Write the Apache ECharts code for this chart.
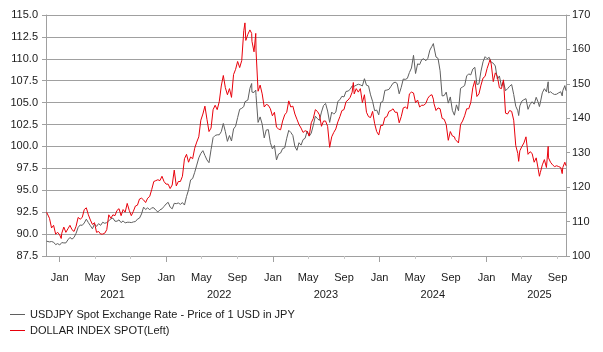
<!DOCTYPE html>
<html>
<head>
<meta charset="utf-8">
<script src="https://cdn.jsdelivr.net/npm/echarts@6/dist/echarts.min.js"></script>
<style>
  html, body { margin: 0; padding: 0; background: #fff; }
  #chart { width: 603px; height: 352px; }
</style>
</head>
<body>
<div id="chart"></div>
<script>
// dates of the readings (mostly weekly, a few extra at the extremes)
const dates = [
  '2020-11-17','2020-11-20','2020-11-27','2020-12-04','2020-12-11','2020-12-18','2020-12-25',
  '2021-01-01','2021-01-06','2021-01-08','2021-01-15','2021-01-22','2021-01-29','2021-02-05','2021-02-12','2021-02-19','2021-02-26',
  '2021-03-05','2021-03-12','2021-03-19','2021-03-26','2021-04-02','2021-04-09','2021-04-16','2021-04-23','2021-04-30',
  '2021-05-07','2021-05-14','2021-05-21','2021-05-28','2021-06-04','2021-06-11','2021-06-18','2021-06-25',
  '2021-07-02','2021-07-09','2021-07-16','2021-07-23','2021-07-30','2021-08-06','2021-08-13','2021-08-20','2021-08-27',
  '2021-09-03','2021-09-10','2021-09-17','2021-09-24','2021-10-01','2021-10-08','2021-10-15','2021-10-22','2021-10-29',
  '2021-11-05','2021-11-12','2021-11-19','2021-11-26','2021-12-03','2021-12-10','2021-12-17','2021-12-24','2021-12-31',
  '2022-01-07','2022-01-14','2022-01-21','2022-01-28','2022-02-04','2022-02-11','2022-02-18','2022-02-25',
  '2022-03-04','2022-03-11','2022-03-18','2022-03-25','2022-04-01','2022-04-08','2022-04-15','2022-04-22','2022-04-29',
  '2022-05-06','2022-05-13','2022-05-20','2022-05-27','2022-06-03','2022-06-10','2022-06-17','2022-06-24',
  '2022-07-01','2022-07-08','2022-07-15','2022-07-22','2022-07-29','2022-08-05','2022-08-12','2022-08-19','2022-08-26',
  '2022-09-02','2022-09-09','2022-09-16','2022-09-23','2022-09-27','2022-09-30','2022-10-07','2022-10-14','2022-10-20','2022-10-21','2022-10-28',
  '2022-11-03','2022-11-04','2022-11-11','2022-11-18','2022-11-25','2022-12-02','2022-12-09','2022-12-16','2022-12-23','2022-12-30',
  '2023-01-06','2023-01-13','2023-01-16','2023-01-20','2023-01-27','2023-02-03','2023-02-10','2023-02-17','2023-02-24',
  '2023-03-03','2023-03-10','2023-03-17','2023-03-24','2023-03-31','2023-04-07','2023-04-14','2023-04-21','2023-04-28',
  '2023-05-05','2023-05-12','2023-05-19','2023-05-26','2023-06-02','2023-06-09','2023-06-16','2023-06-23','2023-06-30',
  '2023-07-07','2023-07-14','2023-07-17','2023-07-21','2023-07-28','2023-08-04','2023-08-11','2023-08-18','2023-08-25',
  '2023-09-01','2023-09-08','2023-09-15','2023-09-22','2023-09-29','2023-10-03','2023-10-06','2023-10-13','2023-10-20','2023-10-27',
  '2023-11-03','2023-11-10','2023-11-17','2023-11-24','2023-12-01','2023-12-08','2023-12-15','2023-12-22','2023-12-29',
  '2024-01-05','2024-01-12','2024-01-19','2024-01-26','2024-02-02','2024-02-09','2024-02-16','2024-02-23',
  '2024-03-01','2024-03-08','2024-03-15','2024-03-22','2024-03-29','2024-04-05','2024-04-12','2024-04-19','2024-04-26',
  '2024-05-03','2024-05-10','2024-05-17','2024-05-24','2024-05-31','2024-06-07','2024-06-14','2024-06-21','2024-06-28',
  '2024-07-03','2024-07-05','2024-07-12','2024-07-19','2024-07-26','2024-08-02','2024-08-09','2024-08-16','2024-08-23','2024-08-30',
  '2024-09-06','2024-09-13','2024-09-16','2024-09-20','2024-09-27','2024-10-04','2024-10-11','2024-10-18','2024-10-25',
  '2024-11-01','2024-11-08','2024-11-15','2024-11-22','2024-11-29','2024-12-06','2024-12-13','2024-12-20','2024-12-27',
  '2025-01-03','2025-01-10','2025-01-13','2025-01-17','2025-01-24','2025-01-31','2025-02-07','2025-02-14','2025-02-21','2025-02-28',
  '2025-03-07','2025-03-14','2025-03-21','2025-03-28','2025-04-04','2025-04-11','2025-04-18','2025-04-21','2025-04-25',
  '2025-05-02','2025-05-09','2025-05-16','2025-05-23','2025-05-30','2025-06-06','2025-06-13','2025-06-20','2025-06-27',
  '2025-07-01','2025-07-04','2025-07-11','2025-07-18','2025-07-25','2025-07-31','2025-08-01','2025-08-08','2025-08-15','2025-08-22','2025-08-29',
  '2025-09-05','2025-09-12','2025-09-17','2025-09-19','2025-09-26','2025-09-30'
];

// DOLLAR INDEX SPOT (left axis)
const dxy = [
  92.5,92.4,91.8,90.7,91.0,90.0,90.2,
  89.9,89.5,90.1,90.8,90.2,90.6,91.0,90.5,90.3,90.9,
  91.9,91.7,91.9,92.8,93.0,92.2,91.6,91.1,91.3,
  90.2,90.3,90.0,90.0,90.1,90.5,92.2,91.8,
  92.2,92.1,92.7,92.9,92.1,92.8,92.5,93.5,92.7,
  92.1,92.6,93.2,93.3,94.0,94.1,93.9,93.6,94.1,
  94.3,95.1,96.0,96.1,96.2,96.1,96.6,96.0,95.7,
  95.7,95.2,95.6,97.3,95.5,96.0,96.0,96.6,
  98.6,99.1,98.2,98.8,98.6,99.8,100.5,101.1,103.0,
  103.7,104.6,103.1,101.7,102.1,104.2,104.7,104.2,
  105.1,106.9,108.1,106.7,105.9,106.6,105.6,108.2,108.8,
  109.7,109.0,109.8,113.2,114.1,112.1,112.8,113.3,112.9,112.0,110.8,
  112.9,110.9,106.3,107.0,106.0,104.5,104.8,104.7,104.3,103.5,
  103.9,102.2,102.2,102.0,101.9,102.9,103.6,103.9,105.2,
  104.5,104.6,103.7,103.1,102.5,102.1,101.6,101.8,101.7,
  101.2,102.7,103.2,104.2,104.0,103.6,102.3,102.9,102.9,
  102.3,99.9,99.8,101.1,101.6,102.0,102.8,103.4,104.1,
  104.2,105.1,105.3,105.6,106.2,107.3,106.0,106.6,106.2,106.6,
  105.0,105.9,103.9,103.4,103.3,104.0,102.6,101.7,101.3,
  102.4,102.4,103.3,103.4,104.0,104.1,104.3,103.9,
  103.9,102.7,103.4,104.4,104.5,104.3,106.0,106.2,106.1,
  105.0,105.3,104.5,104.7,104.7,104.9,105.5,105.8,105.9,
  105.4,104.9,104.1,104.4,104.3,103.2,103.1,102.5,100.7,101.7,
  101.2,101.1,100.8,100.7,100.4,102.5,102.9,103.5,104.3,
  104.3,105.0,106.7,107.5,105.7,106.0,107.0,107.8,108.0,
  108.9,109.6,109.9,109.4,107.4,108.4,108.0,106.7,106.6,107.6,
  103.8,103.7,104.1,104.0,103.0,100.1,99.2,98.3,99.5,
  100.0,100.4,101.1,99.1,99.4,99.2,98.2,98.7,97.4,
  96.6,97.0,97.9,98.5,97.6,100.0,98.7,98.2,97.9,97.7,97.8,
  97.7,97.6,96.9,97.6,98.2,97.8
];

// USDJPY Spot Exchange Rate (right axis)
const usdjpy = [
  104.3,103.8,104.1,104.2,104.0,103.3,103.6,
  103.2,102.7,103.9,103.8,103.8,104.7,105.4,104.9,105.4,106.6,
  108.3,109.0,108.9,109.6,110.7,109.7,108.8,107.9,109.3,
  108.6,109.4,108.9,109.8,109.5,109.7,110.2,110.8,
  111.0,110.1,110.1,110.5,109.7,110.2,109.6,109.8,109.8,
  109.7,109.9,110.0,110.7,111.0,112.2,114.2,113.5,114.0,
  113.4,114.0,114.0,113.3,112.8,113.4,113.7,114.4,115.1,
  115.6,114.2,113.7,115.3,115.2,115.4,115.0,115.5,
  114.8,117.3,119.2,122.1,122.5,124.3,126.4,128.5,129.8,
  130.6,129.2,127.9,127.1,130.9,134.4,135.0,135.2,
  135.2,136.1,138.5,136.1,133.3,135.0,133.4,136.9,137.7,
  140.2,142.6,142.9,143.4,144.8,144.7,145.3,148.7,150.1,147.6,147.5,
  148.2,146.6,138.8,140.4,138.3,134.3,136.6,136.7,132.9,131.1,
  132.1,127.9,128.2,129.6,129.9,131.2,131.4,134.2,136.5,
  135.9,135.0,131.8,130.7,132.9,132.2,133.8,134.2,136.3,
  134.8,135.7,138.0,140.6,139.9,139.4,141.8,143.7,144.3,
  142.1,138.8,138.7,141.8,141.2,141.8,144.9,145.4,146.4,
  146.2,147.8,147.9,148.4,149.4,149.0,149.3,149.6,149.9,149.7,
  149.4,151.5,149.6,149.4,146.8,144.9,142.2,142.4,141.0,
  144.6,144.9,148.1,148.2,148.4,149.3,150.2,150.5,
  150.1,147.1,149.0,151.4,151.3,151.6,153.3,154.6,158.3,
  153.0,155.8,155.6,157.0,157.3,156.7,157.4,159.8,160.9,
  161.7,160.7,157.8,157.4,153.8,146.5,146.6,147.6,144.4,146.2,
  142.3,140.9,140.6,143.9,142.2,148.7,149.1,149.5,152.3,
  152.9,152.6,154.3,154.8,149.8,150.0,153.7,156.4,157.9,
  157.3,157.7,157.5,156.3,156.0,155.2,151.4,152.3,149.3,150.6,
  148.0,148.6,149.3,149.8,146.9,143.5,142.2,140.8,143.6,
  145.0,145.4,145.7,142.6,144.0,144.8,144.1,146.1,144.6,
  143.4,144.5,147.4,148.6,147.7,150.6,147.4,147.7,147.2,146.9,147.0,
  147.4,147.7,146.5,148.0,149.5,148.0
];

// x-axis tick labels: Jan / May / Sep months and the year labels set mid-year
const monthTicks = [
  '2021-01-01','2021-05-01','2021-09-01','2022-01-01','2022-05-01','2022-09-01',
  '2023-01-01','2023-05-01','2023-09-01','2024-01-01','2024-05-01','2024-09-01',
  '2025-01-01','2025-05-01','2025-09-01'
];
const yearTicks = ['2021-07-01','2022-07-01','2023-07-01','2024-07-01','2025-07-01'];
const monthNames = ['Jan','Feb','Mar','Apr','May','Jun','Jul','Aug','Sep','Oct','Nov','Dec'];

const nameJpy = 'USDJPY Spot Exchange Rate - Price of 1 USD in JPY';
const nameDxy = 'DOLLAR INDEX SPOT(Left)';

const ts = d => new Date(d + 'T00:00:00Z').getTime();
const xMin = ts('2020-11-15');
const xMax = ts('2025-09-30');
const janTicks = monthTicks.filter(d => d.slice(5, 7) === '01').map(ts);
const otherTicks = monthTicks.filter(d => d.slice(5, 7) !== '01').map(ts);

const font = 'Arial, "Liberation Sans", sans-serif';
const axisGray = '#a0a0a0';
const textColor = '#1a1a1a';

const chart = echarts.init(document.getElementById('chart'));
chart.setOption({
  animation: false,
  textStyle: { fontFamily: font },
  grid: { left: 46, right: 37, top: 15, bottom: 96 },
  legend: {
    orient: 'vertical',
    left: 5,
    top: 308,
    bottom: 0,
    padding: [0, 5, 0, 5],
    icon: 'rect',
    itemWidth: 15,
    itemHeight: 1,
    itemGap: 3,
    data: [nameJpy, nameDxy],
    textStyle: { fontFamily: font, fontSize: 11, color: textColor, lineHeight: 13 }
  },
  xAxis: [
    {
      type: 'value',
      min: xMin,
      max: xMax,
      position: 'bottom',
      axisLine: { lineStyle: { color: axisGray, width: 1 } },
      axisTick: { show: true, customValues: janTicks, length: 6, lineStyle: { color: axisGray } },
      splitLine: { show: false },
      axisLabel: {
        customValues: monthTicks.map(ts),
        margin: 16,
        fontSize: 11,
        color: textColor,
        fontFamily: font,
        formatter: v => monthNames[new Date(v).getUTCMonth()]
      }
    },
    {
      type: 'value',
      min: xMin,
      max: xMax,
      position: 'bottom',
      axisLine: { show: false },
      axisTick: { show: true, customValues: otherTicks, length: 3, lineStyle: { color: '#c8c8c8' } },
      splitLine: { show: false },
      axisLabel: {
        customValues: yearTicks.map(ts),
        margin: 33,
        fontSize: 11,
        color: textColor,
        fontFamily: font,
        formatter: v => String(new Date(v).getUTCFullYear())
      }
    }
  ],
  yAxis: [
    {
      type: 'value',
      position: 'left',
      min: 87.5,
      max: 115,
      interval: 2.5,
      axisLine: { show: true, lineStyle: { color: axisGray } },
      axisTick: { show: true, length: 4, lineStyle: { color: axisGray } },
      splitLine: { show: true, lineStyle: { color: axisGray, width: 1 } },
      axisLabel: { margin: 8, fontSize: 11, color: textColor, fontFamily: font, formatter: v => v.toFixed(1) }
    },
    {
      type: 'value',
      position: 'right',
      min: 100,
      max: 170,
      interval: 10,
      axisLine: { show: true, lineStyle: { color: axisGray } },
      axisTick: { show: true, length: 4, lineStyle: { color: axisGray } },
      splitLine: { show: false },
      axisLabel: { margin: 6, fontSize: 11, color: textColor, fontFamily: font }
    }
  ],
  series: [
    {
      name: nameJpy,
      type: 'line',
      yAxisIndex: 1,
      symbol: 'none',
      lineStyle: { color: '#5f5f5f', width: 1 },
      itemStyle: { color: '#5f5f5f' },
      data: dates.map((d, i) => [ts(d), usdjpy[i]])
    },
    {
      name: nameDxy,
      type: 'line',
      yAxisIndex: 0,
      symbol: 'none',
      lineStyle: { color: '#e8000b', width: 1 },
      itemStyle: { color: '#e8000b' },
      data: dates.map((d, i) => [ts(d), dxy[i]])
    }
  ]
});
</script>
</body>
</html>
